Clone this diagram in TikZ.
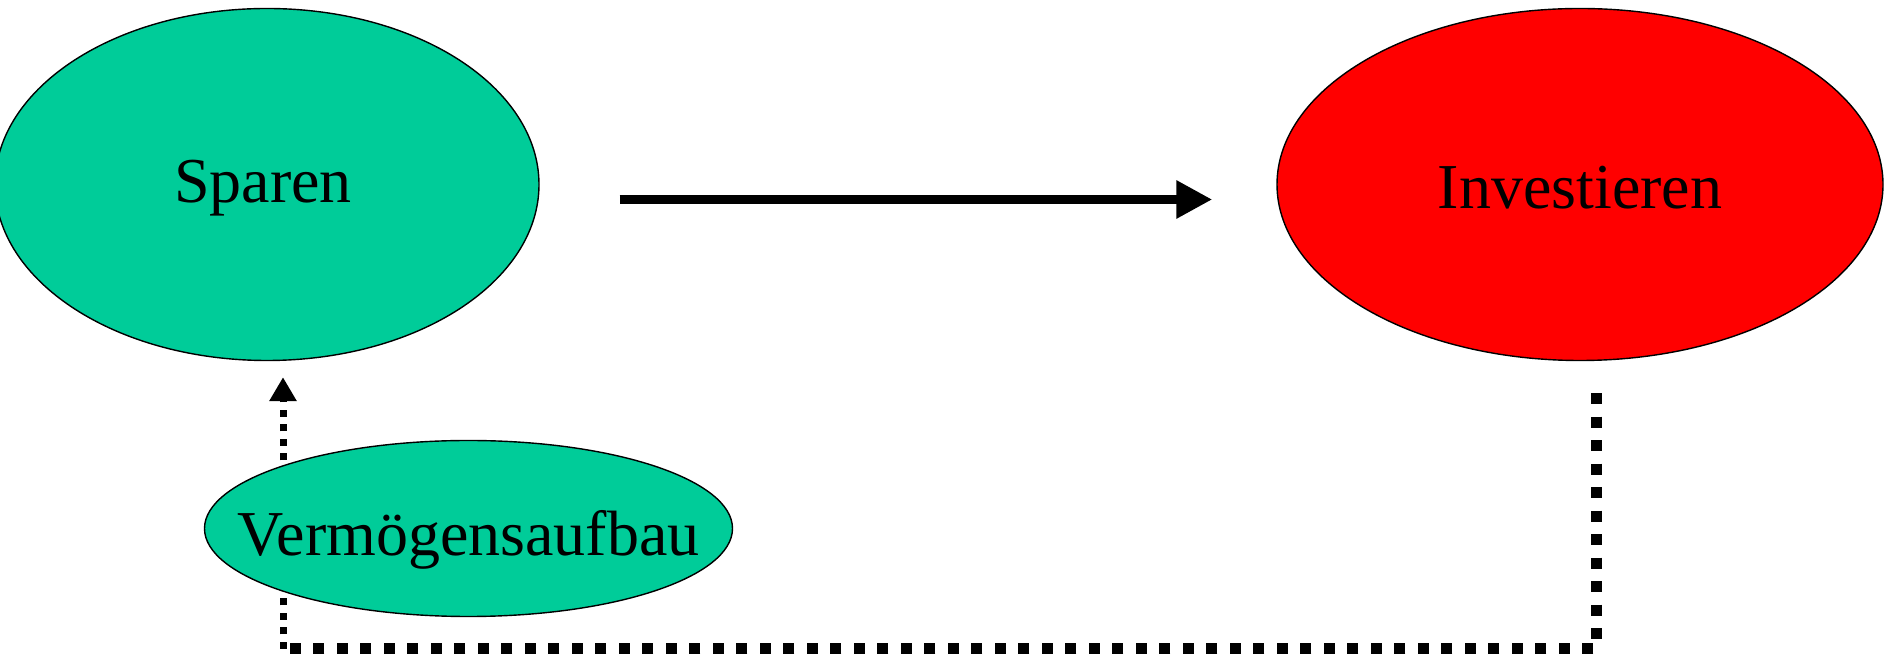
\documentclass[tikz,border=0pt]{standalone}
\usepackage{fontspec}
\setmainfont{Liberation Serif}
\usepackage{xcolor}
\usetikzlibrary{
    arrows.meta,
    shapes.geometric,
    calc,
    positioning
}
\definecolor{sparGreen}{RGB}{0,204,153}

\begin{document}
\begin{tikzpicture}[x=0.5pt, y=-0.5pt,
        blob/.style={ellipse, draw=black, line width=0.7pt, inner sep=0pt},
        blobtext/.style={anchor=base, yshift=-1.6pt, inner sep=0pt,
            font=\fontsize{32pt}{38pt}\selectfont},
        thickdots/.style={line width=5.5pt, dash pattern=on 5.5pt off 6.25pt},
        thindots/.style={line width=3.5pt, dash pattern=on 3.5pt off 3.75pt}]
                        \useasboundingbox (0,0) rectangle (1884,656);
                        \node[blob, fill=sparGreen, minimum width=272pt, minimum height=176pt,
                            label={[blobtext, xshift=-2pt]center:Sparen}] (spar) at (267, 184.5) {};
                        \node[blob, fill=red, minimum width=303pt, minimum height=176pt,
                            label={[blobtext]center:Investieren}] (inv) at (1580, 184.5) {};
                        \coordinate (floor) at (0, 649);
                        \coordinate (from) at ([xshift=8pt, yshift=-16pt]inv.south);
                        \coordinate (to) at ([xshift=8pt, yshift=-8pt]spar.south);

                        \draw[line width=4.8pt, -{Triangle[length=18pt, width=18pt]}]
                        ([xshift=40pt, yshift=-7.5pt]spar.east) -- ([xshift=-32pt, yshift=-7.5pt]inv.west);
                        \draw[thickdots] (from) -- (from |- floor) -- (to |- floor);
                        \draw[thindots, -{Triangle[length=12pt, width=13pt]}] (to |- floor) -- (to);

                        \node[blob, fill=sparGreen, minimum width=264pt, minimum height=88pt,
                            label={[blobtext, yshift=-4.25pt]center:Vermögensaufbau}] (verm) at (468.5, 528.5) {};
                    \end{tikzpicture}
\end{document}
